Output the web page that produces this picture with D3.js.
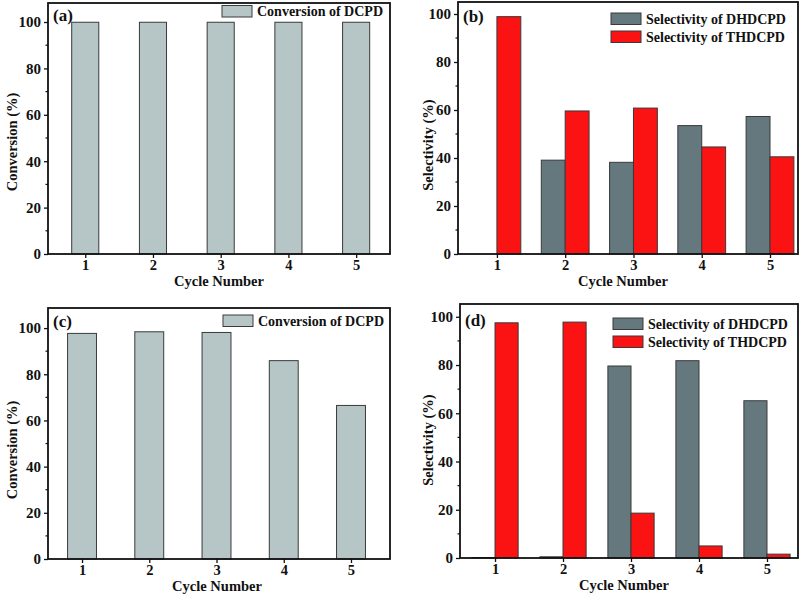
<!DOCTYPE html>
<html><head><meta charset="utf-8">
<script src="https://cdn.jsdelivr.net/npm/d3@7"></script>
<style>body{margin:0;background:#fff}svg{display:block}text{font-family:"Liberation Serif","Times New Roman",serif;font-weight:bold;fill:#111}</style>
</head><body>
<script>
// ---- data ----
const cycles = [1, 2, 3, 4, 5];
const yTicks = [0, 20, 40, 60, 80, 100];
const convA = [99.9, 99.9, 99.9, 99.9, 99.9];
const selDH_B = [0, 39.1, 38.2, 53.5, 57.3];
const selTH_B = [98.9, 59.6, 60.8, 44.6, 40.5];
const convC = [97.7, 98.4, 98.1, 85.9, 66.5];
const selDH_D = [0.2, 0.5, 79.6, 81.8, 65.2];
const selTH_D = [97.5, 97.8, 18.6, 5.0, 1.6];
const convLabel = "Conversion of DCPD";
const dhLabel = "Selectivity of DHDCPD";
const thLabel = "Selectivity of THDCPD";

const W = 806, H = 596;
const svg = d3.select("body").append("svg").attr("width", W).attr("height", H);
const C = {light: "#b6c6c7", dark: "#65787e", red: "#fb1212", edge: "#3a3a3a"};
const FONT = '"Liberation Serif","Times New Roman",serif';

function panel(p) {
  const g = svg.append("g");
  const x = d3.scaleLinear().domain(p.xd).range([p.L, p.R]);
  const y = d3.scaleLinear().domain([0, p.ymax]).range([p.B, p.T]);
  const unit = x(1) - x(0);
  // bars
  p.series.forEach((s, si) => {
    g.selectAll(null).data(s.values).enter().append("rect")
      .attr("x", (d, i) => x(cycles[i] + s.offset * p.bw))
      .attr("width", p.bw * unit)
      .attr("y", d => y(d))
      .attr("height", d => y(0) - y(d))
      .attr("fill", s.color).attr("stroke", C.edge).attr("stroke-width", 1);
  });
  // y axis ticks
  const ya = d3.axisLeft(y).tickValues(yTicks).tickSize(4).tickPadding(3).tickFormat(d3.format("d"));
  const yg = g.append("g").attr("transform", `translate(${p.L},0)`).call(ya)
    .attr("font-size", 15).attr("font-family", FONT).attr("font-weight", "bold");
  yg.select(".domain").remove();
  yg.selectAll("text").style("font-size", "15px").attr("fill", "#111");
  yg.selectAll("line").attr("stroke", "#111").attr("stroke-width", 1.3);
  const minor = d3.range(10, 101, 20);
  g.selectAll(null).data(minor).enter().append("line")
    .attr("x1", p.L - 2.5).attr("x2", p.L).attr("y1", d => y(d)).attr("y2", d => y(d))
    .attr("stroke", "#111").attr("stroke-width", 1.2);
  // x axis
  const xa = d3.axisBottom(x).tickValues(cycles).tickSize(4).tickPadding(2).tickFormat(d3.format("d"));
  const xg = g.append("g").attr("transform", `translate(0,${p.B})`).call(xa)
    .attr("font-size", 14.5).attr("font-family", FONT).attr("font-weight", "bold");
  xg.select(".domain").remove();
  xg.selectAll("text").style("font-size", "14.5px").attr("fill", "#111");
  xg.selectAll("line").attr("stroke", "#111").attr("stroke-width", 1.3);
  // frame
  g.append("rect").attr("x", p.L).attr("y", p.T).attr("width", p.R - p.L).attr("height", p.B - p.T)
    .attr("fill", "none").attr("stroke", "#111").attr("stroke-width", 1.8);
  // titles
  g.append("text").attr("x", (p.L + p.R) / 2 + p.xtOff).attr("y", p.B + 32).attr("text-anchor", "middle")
    .style("font-size", "14.5px").text("Cycle Number");
  g.append("text").attr("transform", `translate(${p.ytX},${p.ytY}) rotate(-90)`).attr("text-anchor", "middle")
    .style("font-size", "14.5px").text(p.ytitle);
  g.append("text").attr("x", p.L + 5).attr("y", p.T + p.labDy).style("font-size", "17px").text(p.label);
  // legend
  p.series.forEach((s, i) => {
    const ly = p.legY + i * 18;
    g.append("rect").attr("x", p.legX).attr("y", ly).attr("width", 30).attr("height", 11.5)
      .attr("fill", s.color).attr("stroke", C.edge).attr("stroke-width", 1);
    g.append("text").attr("x", p.legX + 35).attr("y", ly + 10.5).style("font-size", "14px").text(s.name);
  });
}

panel({L: 48, T: 3, R: 390, B: 254, xd: [0.45, 5.5], ymax: 108.2, bw: 0.4, label: "(a)", labDy: 18,
  ytitle: "Conversion (%)", ytX: 17, ytY: 142, xtOff: 0, legX: 222, legY: 5.5,
  series: [{name: convLabel, values: convA, color: C.light, offset: -0.5}]});
panel({L: 458, T: 2, R: 798, B: 254, xd: [0.43, 5.41], ymax: 105, bw: 0.35, label: "(b)", labDy: 20,
  ytitle: "Selectivity (%)", ytX: 433, ytY: 145, xtOff: -5, legX: 611, legY: 13,
  series: [{name: dhLabel, values: selDH_B, color: C.dark, offset: -1},
           {name: thLabel, values: selTH_B, color: C.red, offset: 0}]});
panel({L: 48, T: 308, R: 390, B: 559, xd: [0.494, 5.58], ymax: 108.7, bw: 0.43, label: "(c)", labDy: 19,
  ytitle: "Conversion (%)", ytX: 17, ytY: 450, xtOff: -2, legX: 223, legY: 315,
  series: [{name: convLabel, values: convC, color: C.light, offset: -0.5}]});
panel({L: 460, T: 304, R: 798, B: 558, xd: [0.485, 5.456], ymax: 105.3, bw: 0.34, label: "(d)", labDy: 22,
  ytitle: "Selectivity (%)", ytX: 433, ytY: 440, xtOff: -5, legX: 613, legY: 318,
  series: [{name: dhLabel, values: selDH_D, color: C.dark, offset: -1},
           {name: thLabel, values: selTH_D, color: C.red, offset: 0}]});
</script>
</body></html>
